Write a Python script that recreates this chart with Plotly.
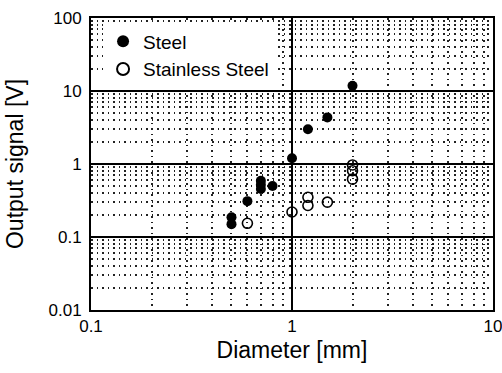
import plotly.graph_objects as go

steel_d = [2.0, 1.5, 1.2, 1.0, 0.8, 0.7, 0.7, 0.7, 0.6, 0.5, 0.5]
steel_v = [11.8, 4.35, 3.0, 1.2, 0.5, 0.59, 0.52, 0.455, 0.31, 0.186, 0.15]
ss_d = [0.6, 1.0, 1.2, 1.2, 1.5, 2.0, 2.0, 2.0]
ss_v = [0.154, 0.22, 0.35, 0.27, 0.30, 0.97, 0.81, 0.62]

x_ticks = [0.1, 1, 10]
x_labels = ["0.1", "1", "10"]
y_ticks = [0.01, 0.1, 1, 10, 100]
y_labels = ["0.01", "0.1", "1", "10", "100"]

font = "Liberation Sans, Arial, sans-serif"

fig = go.Figure()
fig.add_trace(go.Scatter(x=steel_d, y=steel_v, mode="markers", name="Steel",
                         marker=dict(symbol="circle", size=10, color="black")))
fig.add_trace(go.Scatter(x=ss_d, y=ss_v, mode="markers", name="Stainless Steel",
                         marker=dict(symbol="circle-open", size=10, color="black",
                                     line=dict(width=1.6, color="black"))))

axis_common = dict(type="log", showline=True, linecolor="black", linewidth=2, mirror=True,
                   showgrid=True, gridcolor="black", gridwidth=1.8, zeroline=False,
                   ticks="", automargin=False, ticklabeloverflow="allow",
                   tickfont=dict(family=font, size=17, color="black"),
                   minor=dict(showgrid=True, gridcolor="#222", gridwidth=1.5,
                              griddash="1.5px,4px", ticks="", dtick="D1"))

fig.update_xaxes(range=[-1, 1], tickvals=x_ticks, ticktext=x_labels, ticklabelstandoff=0,
                 title=dict(text="Diameter [mm]", font=dict(family=font, size=23, color="black"), standoff=6),
                 **axis_common)
fig.update_yaxes(range=[-2, 2], tickvals=y_ticks, ticktext=y_labels, ticklabelstandoff=4,
                 title=dict(text="Output signal [V]", font=dict(family=font, size=23, color="black"), standoff=18),
                 **axis_common)

fig.update_layout(
    width=502, height=373,
    margin=dict(l=91, r=9, t=18, b=63),
    plot_bgcolor="white", paper_bgcolor="white",
    legend=dict(x=0.03, y=0.985, xanchor="left", yanchor="top", bgcolor="white",
                font=dict(family=font, size=19, color="black"), borderwidth=0,
                itemsizing="constant", tracegroupgap=0),
    showlegend=True,
)

fig.write_html("out.html")
